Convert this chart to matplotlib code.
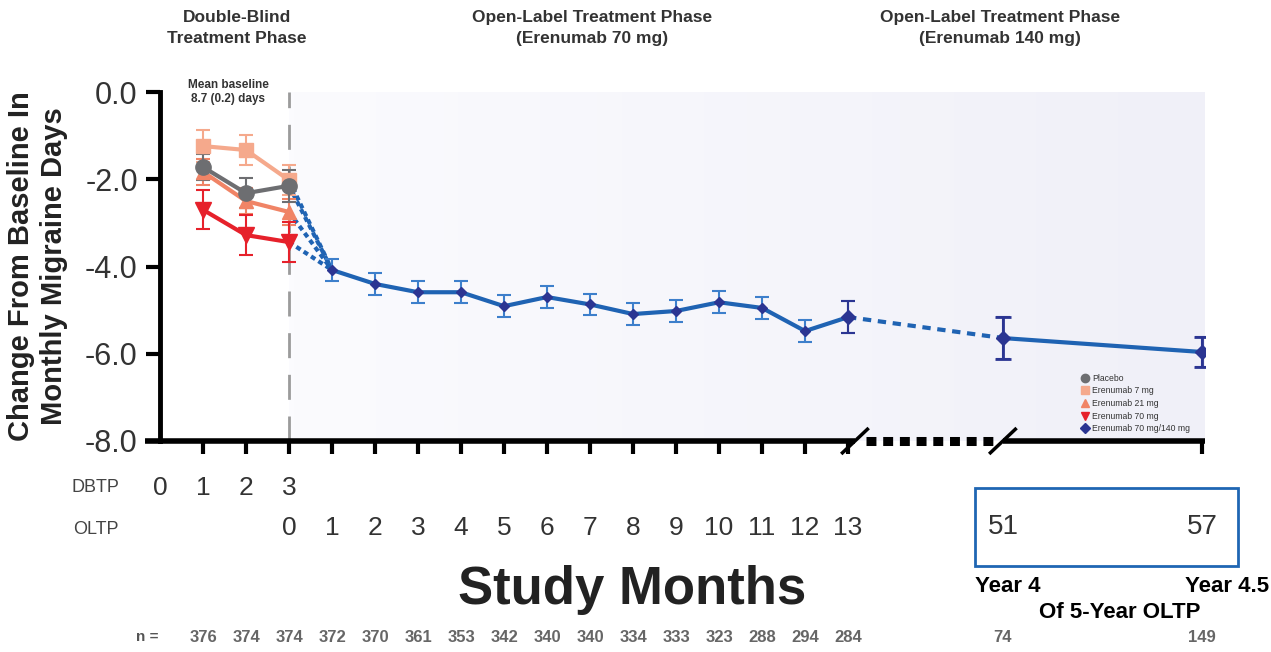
import numpy as np
import matplotlib
matplotlib.use('Agg')
import matplotlib.pyplot as plt
import matplotlib.transforms as mtransforms
from matplotlib import font_manager
from matplotlib.colors import LinearSegmentedColormap
from matplotlib.lines import Line2D

# pick a narrow font if it is there
_names = {f.name for f in font_manager.fontManager.ttflist}
NARROW = 'Liberation Sans Narrow' if 'Liberation Sans Narrow' in _names else 'Liberation Sans'
plt.rcParams['font.family'] = [NARROW, 'DejaVu Sans']

# ---- data ----
db_months = [1, 2, 3]
placebo = [-1.72, -2.32, -2.15]
placebo_err = [0.30, 0.34, 0.37]
e7 = [-1.24, -1.33, -2.02]
e7_err = [0.37, 0.35, 0.35]
e21 = [-1.83, -2.50, -2.75]
e21_err = [0.30, 0.30, 0.30]
e70 = [-2.70, -3.28, -3.44]
e70_err = [0.45, 0.45, 0.45]

ol_months = [1, 2, 3, 4, 5, 6, 7, 8, 9, 10, 11, 12, 13]
ol_mean = [-4.08, -4.40, -4.59, -4.59, -4.91, -4.70, -4.87, -5.09, -5.02, -4.82, -4.95, -5.48, -5.16]
ol_err = [0.25, 0.25, 0.25, 0.25, 0.25, 0.25, 0.25, 0.25, 0.25, 0.25, 0.25, 0.25, 0.37]
late_months = [51, 57]
late_mean = [-5.64, -5.96]
late_err = [0.48, 0.34]

dbtp_ticks = [0, 1, 2, 3]
oltp_ticks = [0, 1, 2, 3, 4, 5, 6, 7, 8, 9, 10, 11, 12, 13]
n_db = [376, 374, 374]
n_ol = [372, 370, 361, 353, 342, 340, 340, 334, 333, 323, 288, 294, 284]
n_late = [74, 149]

legend_labels = ['Placebo', 'Erenumab 7 mg', 'Erenumab 21 mg', 'Erenumab 70 mg', 'Erenumab 70 mg/140 mg']


# axis position of an OLTP month (axis is broken after month 13)
def ol_pos(m):
    m = np.asarray(m, dtype=float)
    return np.where(m <= 13, 3 + m, 19.6 + (m - 51) * (24.23 - 19.6) / 6)


C_PLA = '#6d6e71'
C_7 = '#f5a98c'
C_21 = '#f08466'
C_70 = '#e6212b'
C_BLUE = '#1f63b3'
C_EBAR = '#3d7fcb'
C_NAVY = '#2b3592'

fig = plt.figure(figsize=(12.71, 6.52), dpi=100)
ax = fig.add_axes([160 / 1271, 1 - 441 / 652, 1045 / 1271, 349 / 652])
XMAX = 24.3

# background gradient for open-label phase
grad = LinearSegmentedColormap.from_list('bg', ['#fbfbfe', '#f0f0f8'])
ax.imshow(np.linspace(0, 1, 256).reshape(1, -1), extent=[3, XMAX, -8, 0],
          cmap=grad, aspect='auto', interpolation='bilinear', zorder=0)
ax.axvline(3, color='#9b9b9b', lw=2, dashes=(9, 6), zorder=1)

# dotted transitions from DB month 3 to OL month 1
x1 = float(ol_pos(1))
for grp in (placebo, e7, e21, e70):
    ax.plot([3, x1], [grp[-1], ol_mean[0]], color=C_BLUE, lw=3, dashes=(1.2, 0.9), zorder=2)

# double-blind groups
for vals, err, col, mk, ms in [(e7, e7_err, C_7, 's', 10), (e21, e21_err, C_21, '^', 10),
                               (placebo, placebo_err, C_PLA, 'o', 11), (e70, e70_err, C_70, 'v', 11)]:
    ax.errorbar(db_months, vals, yerr=err, color=col, lw=3, marker=mk, ms=ms,
                elinewidth=1.5, capsize=5, capthick=1.5, zorder=4)

# open-label line
xo = ol_pos(ol_months)
ax.errorbar(xo, ol_mean, yerr=ol_err, color=C_BLUE, lw=3, ecolor=C_EBAR,
            elinewidth=1.5, capsize=5, capthick=1.5, marker='D', ms=5,
            mfc=C_NAVY, mec=C_NAVY, zorder=4)
xl = ol_pos(late_months)
ax.plot([xo[-1], xl[0]], [ol_mean[-1], late_mean[0]], color=C_BLUE, lw=3, dashes=(2, 1.6), zorder=3)
ax.plot(xl, late_mean, color=C_BLUE, lw=3, zorder=3)
ax.errorbar(xl, late_mean, yerr=late_err, fmt='none', ecolor=C_NAVY, elinewidth=2,
            capsize=6, capthick=2, zorder=4)
ax.errorbar(list(xo[-1:]) + list(xl), [ol_mean[-1]] + late_mean, yerr=[ol_err[-1]] + late_err,
            fmt='D', ms=7, mfc=C_NAVY, mec=C_NAVY, ecolor=C_NAVY, elinewidth=1.5,
            capsize=5, capthick=1.5, zorder=5)

ax.set_xlim(0, XMAX)
ax.set_ylim(-8, 0)

# y axis
ax.set_yticks([0, -2, -4, -6, -8])
ax.set_yticklabels(['0.0', '-2.0', '-4.0', '-6.0', '-8.0'], fontsize=22, color='#333333')
ax.tick_params(axis='y', length=10, width=3, pad=6)
for s in ('top', 'right', 'bottom'):
    ax.spines[s].set_visible(False)
ax.spines['left'].set_linewidth(3.5)
ax.set_ylabel('Change From Baseline In\nMonthly Migraine Days', fontsize=21,
              fontweight='bold', color='#222222', labelpad=12, linespacing=1.25)

# x axis ticks (labels drawn as text)
xt = list(range(1, 17)) + [float(ol_pos(57))]
ax.set_xticks(xt)
ax.set_xticklabels([''] * len(xt))
ax.tick_params(axis='x', length=9, width=3, color='black')

# broken bottom axis line
kw = dict(color='black', clip_on=False, zorder=6, solid_capstyle='butt')
ax.plot([-0.35, 16.16], [-8, -8], lw=4, **kw)
ax.plot([16.42, 19.38], [-8, -8], lw=6.5, dashes=(1.1, 0.75), dash_capstyle='butt',
        color='black', clip_on=False, zorder=6)
ax.plot([19.6, XMAX], [-8, -8], lw=4, **kw)
for xs in (16.16, 19.6):
    ax.plot([xs - 0.29, xs + 0.29], [-8.27, -7.73], color='black', lw=2.5, clip_on=False, zorder=7)

# x labels rows
tr = mtransforms.blended_transform_factory(ax.transData, fig.transFigure)


def fy(py):
    return 1 - py / 652


ax.text(-1.5, fy(488), 'DBTP', transform=tr, ha='center', va='center', fontsize=13, color='#444444')
for m in dbtp_ticks:
    ax.text(m, fy(488), str(m), transform=tr, ha='center', va='center', fontsize=19, color='#333333')
ax.text(-1.5, fy(530), 'OLTP', transform=tr, ha='center', va='center', fontsize=13, color='#444444')
for m in oltp_ticks:
    ax.text(float(ol_pos(m)), fy(528), str(m), transform=tr, ha='center', va='center',
            fontsize=19, color='#333333')
for m in late_months:
    ax.text(float(ol_pos(m)), fy(527), str(m), transform=tr, ha='center', va='center',
            fontsize=20, color='#333333')
box = plt.Rectangle((975 / 1271, fy(566)), 263 / 1271, 78 / 652, transform=fig.transFigure,
                    fill=False, ec='#1f66b3', lw=2)
fig.add_artist(box)

fig.text(632 / 1271, fy(590), 'Study Months', ha='center', va='center', fontsize=38,
         fontweight='bold', color='#222222')

# n row
ax.text(-0.3, fy(637), 'n =', transform=tr, ha='center', va='center', fontsize=11,
        fontweight='bold', color='#555555')
for m, n in zip(db_months, n_db):
    ax.text(m, fy(637), str(n), transform=tr, ha='center', va='center', fontsize=12,
            fontweight='bold', color='#666666')
for m, n in zip(ol_months, n_ol):
    ax.text(float(ol_pos(m)), fy(637), str(n), transform=tr, ha='center', va='center', fontsize=12,
            fontweight='bold', color='#666666')
for m, n in zip(late_months, n_late):
    ax.text(float(ol_pos(m)), fy(638), str(n), transform=tr, ha='center', va='center', fontsize=12,
            fontweight='bold', color='#666666')

# year notes
fig.text(975 / 1271, fy(587), 'Year 4', ha='left', va='center', fontsize=16, fontweight='bold',
         family=['Liberation Sans', 'DejaVu Sans'])
fig.text(1269 / 1271, fy(587), 'Year 4.5', ha='right', va='center', fontsize=16, fontweight='bold',
         family=['Liberation Sans', 'DejaVu Sans'])
fig.text(1120 / 1271, fy(613), 'Of 5-Year OLTP', ha='center', va='center', fontsize=16,
         fontweight='bold', family=['Liberation Sans', 'DejaVu Sans'])

# phase headings
hk = dict(ha='center', va='center', fontsize=12.5, fontweight='bold', color='#333333', linespacing=1.45)
fig.text(237 / 1271, fy(28), 'Double-Blind\nTreatment Phase', **hk)
fig.text(592 / 1271, fy(28), 'Open-Label Treatment Phase\n(Erenumab 70 mg)', **hk)
fig.text(1000 / 1271, fy(28), 'Open-Label Treatment Phase\n(Erenumab 140 mg)', **hk)
fig.text(228 / 1271, fy(92), 'Mean baseline\n8.7 (0.2) days', ha='center', va='center',
         fontsize=8.5, fontweight='bold', color='#333333', linespacing=1.2)

# legend
handles = [Line2D([], [], ls='none', marker='o', ms=6, color=C_PLA),
           Line2D([], [], ls='none', marker='s', ms=6, color=C_7),
           Line2D([], [], ls='none', marker='^', ms=6, color=C_21),
           Line2D([], [], ls='none', marker='v', ms=6, color=C_70),
           Line2D([], [], ls='none', marker='D', ms=5, color=C_NAVY)]
leg = ax.legend(handles, legend_labels, loc='upper left', bbox_to_anchor=(0.878, 0.205),
                frameon=False, fontsize=6.2, handlelength=0.8, handletextpad=0.4,
                labelspacing=0.42, borderpad=0)
for t in leg.get_texts():
    t.set_color('#333333')

fig.savefig('out.png', dpi=100)
